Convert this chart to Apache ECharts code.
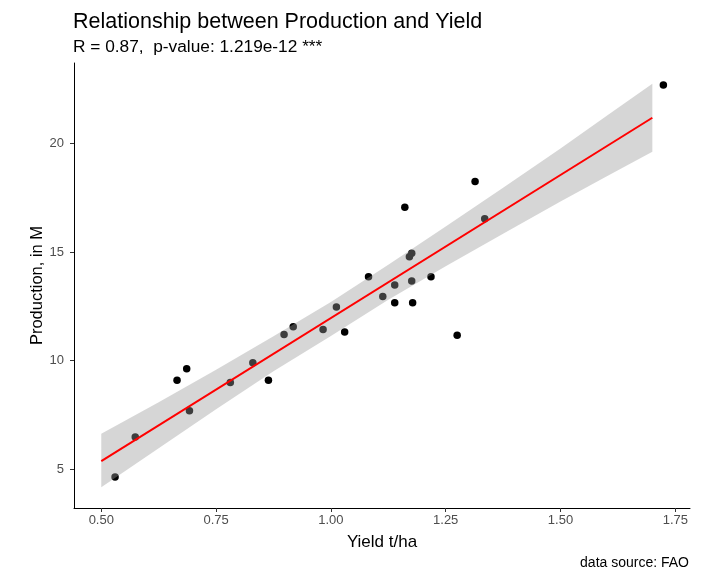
<!DOCTYPE html>
<html>
<head>
<meta charset="utf-8">
<script src="https://cdn.jsdelivr.net/npm/echarts@6/dist/echarts.min.js"></script>
<style>
html,body{margin:0;padding:0;background:#fff;}
#chart{width:715px;height:571px;}
</style>
</head>
<body>
<div id="chart"></div>
<script>
// Observations: yield (t/ha) and production (M)
var yieldVals = [0.530, 0.574, 0.665, 0.686, 0.692, 0.781, 0.830, 0.864, 0.898, 0.918, 0.983, 1.012, 1.030, 1.082, 1.113, 1.139, 1.139, 1.161, 1.171, 1.176, 1.176, 1.178, 1.218, 1.275, 1.314, 1.335, 1.724];
var productionVals = [4.65, 6.49, 9.10, 9.63, 7.70, 9.00, 9.91, 9.10, 11.21, 11.56, 11.44, 12.47, 11.32, 13.86, 12.95, 13.48, 12.67, 17.06, 14.78, 14.94, 13.67, 12.67, 13.86, 11.17, 18.25, 16.53, 22.69];

// Fitted line and confidence band
var fitX = [0.50, 1.70];
var fitY = [5.38, 21.18];
var bandX = [0.50, 0.625, 0.75, 0.875, 1.00, 1.125, 1.25, 1.375, 1.50, 1.60, 1.70];
var bandLower = [4.18, 5.97, 7.76, 9.51, 11.14, 12.80, 14.35, 15.84, 17.33, 18.48, 19.61];
var bandUpper = [6.64, 8.09, 9.58, 11.13, 12.70, 14.42, 16.17, 17.96, 19.77, 21.26, 22.74];

// Axes
var xTickValues = [0.5, 0.75, 1.0, 1.25, 1.5, 1.75];
var xTickLabels = ['0.50', '0.75', '1.00', '1.25', '1.50', '1.75'];
var yTickValues = [5, 10, 15, 20];
var yTickLabels = ['5', '10', '15', '20'];

var titleText = 'Relationship between Production and Yield';
var subtitleText = 'R = 0.87,  p-value: 1.219e-12 ***';
var captionText = 'data source: FAO';
var xName = 'Yield t/ha';
var yName = 'Production, in M';

var FONT = '"Liberation Sans", Arial, sans-serif';

var scatterData = yieldVals.map(function (x, i) { return [x, productionVals[i]]; });
var fitData = fitX.map(function (x, i) { return [x, fitY[i]]; });
var bandData = bandX.map(function (x, i) { return [x, bandLower[i], bandUpper[i]]; });

var chart = echarts.init(document.getElementById('chart'), null, {renderer: 'canvas'});

var option = {
  backgroundColor: '#ffffff',
  animation: false,
  title: [
    {text: titleText, left: 68, top: 6, textStyle: {fontFamily: FONT, fontSize: 21.5, fontWeight: 'normal', color: '#000'}},
    {text: subtitleText, left: 68, top: 34, textStyle: {fontFamily: FONT, fontSize: 17.3, fontWeight: 'normal', color: '#000'}},
    {text: captionText, right: 21, top: 551, textStyle: {fontFamily: FONT, fontSize: 14, fontWeight: 'normal', color: '#000'}}
  ],
  grid: {left: 74, right: 25, top: 63, bottom: 63, containLabel: false},
  xAxis: {
    type: 'value',
    min: 0.4406, max: 1.782,
    name: xName, nameLocation: 'middle', nameGap: 26, nameMoveOverlap: false,
    nameTextStyle: {fontFamily: FONT, fontSize: 17, color: '#000'},
    axisLine: {show: true, lineStyle: {color: '#000', width: 1}},
    axisTick: {show: true, length: 4, customValues: xTickValues, lineStyle: {color: '#333'}},
    axisLabel: {
      customValues: xTickValues, margin: 6,
      fontFamily: FONT, fontSize: 13, color: '#4d4d4d',
      formatter: function (v) { var i = xTickValues.indexOf(v); return i >= 0 ? xTickLabels[i] : ''; }
    },
    splitLine: {show: false}
  },
  yAxis: {
    type: 'value',
    min: 3.22, max: 23.70,
    name: yName, nameLocation: 'middle', nameGap: 28, nameRotate: 90, nameMoveOverlap: false,
    nameTextStyle: {fontFamily: FONT, fontSize: 16.5, color: '#000'},
    axisLine: {show: true, lineStyle: {color: '#000', width: 1}},
    axisTick: {show: true, length: 4, customValues: yTickValues, lineStyle: {color: '#333'}},
    axisLabel: {
      customValues: yTickValues, margin: 10,
      fontFamily: FONT, fontSize: 13, color: '#4d4d4d',
      formatter: function (v) { var i = yTickValues.indexOf(v); return i >= 0 ? yTickLabels[i] : ''; }
    },
    splitLine: {show: false}
  },
  series: [
    {
      type: 'scatter', data: scatterData, symbol: 'circle', symbolSize: 7.5,
      itemStyle: {color: '#000', opacity: 1}, z: 1, silent: true
    },
    {
      type: 'custom', data: bandData, z: 2, silent: true,
      renderItem: function (params, api) {
        if (params.dataIndex !== 0) return null;
        var pts = [];
        for (var i = 0; i < bandData.length; i++) pts.push(api.coord([bandData[i][0], bandData[i][2]]));
        for (var j = bandData.length - 1; j >= 0; j--) pts.push(api.coord([bandData[j][0], bandData[j][1]]));
        return {type: 'polygon', shape: {points: pts}, style: {fill: 'rgba(153,153,153,0.4)'}};
      },
      encode: {x: 0, y: [1, 2]}
    },
    {
      type: 'line', data: fitData, showSymbol: false, z: 3, silent: true,
      lineStyle: {color: '#ff0000', width: 2}
    }
  ]
};
chart.setOption(option);
</script>
</body>
</html>
